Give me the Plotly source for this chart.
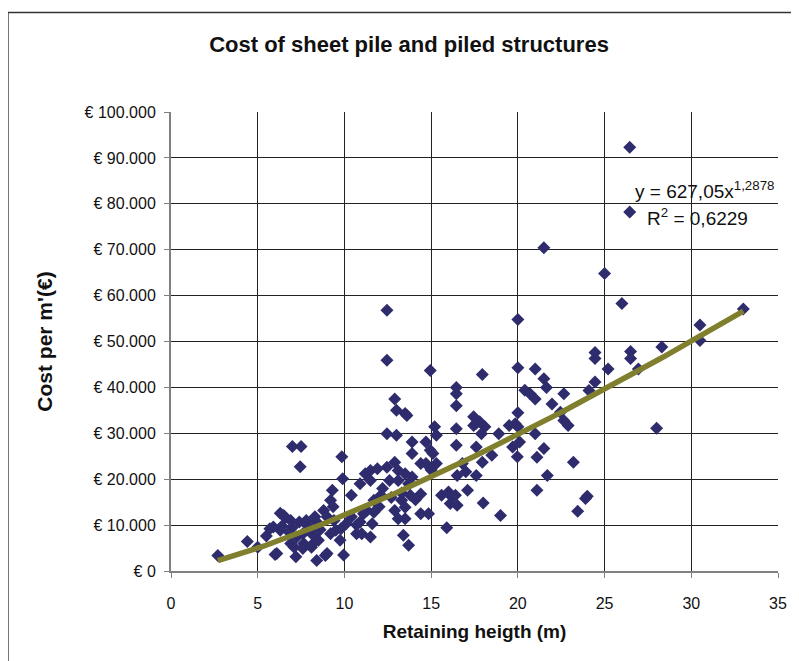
import numpy as np
import plotly.graph_objects as go

# Retaining height (m) and cost per m' (EUR)
height = [
    2.7, 4.4, 5.0, 5.5, 5.7, 5.9, 6.0, 6.1, 6.3, 6.3, 6.5, 6.6, 6.8, 6.9, 6.9, 7.0, 7.1, 7.2, 7.25, 7.4,
    7.45, 7.5, 7.6, 7.6, 7.65, 7.8, 8.0, 8.1, 8.2, 8.2, 8.3, 8.4, 8.4, 8.5, 8.8, 8.9, 9.0, 9.0, 9.2, 9.2,
    9.3, 9.35, 9.4, 9.5, 9.75, 9.8, 9.85, 9.9, 9.95, 10.1, 10.4, 10.4, 10.7, 10.7,
    10.9, 10.9, 11.0, 11.2, 11.3, 11.5, 11.5, 11.5, 11.6, 11.7, 11.7, 11.9, 12.1, 12.45, 12.45, 12.45,
    12.45, 12.6, 12.9, 12.9, 12.9, 13.0, 13.0, 13.1, 13.1, 13.1, 13.3, 13.4, 13.5, 13.5, 13.5, 13.5,
    13.6, 13.7, 13.7, 13.9, 13.9, 13.9, 14.4, 14.4, 14.4, 14.7, 14.7, 14.85, 14.95, 14.95, 15.1, 15.2,
    15.3, 15.3, 15.6, 15.9,
    16.0, 16.1, 16.2, 16.4, 16.45, 16.45, 16.45, 16.45, 16.45, 16.5, 16.5, 16.8, 17.0, 17.1, 17.45, 17.45,
    17.6, 17.6, 17.6, 17.8, 17.95, 17.9, 17.95, 18.0, 18.1, 18.5, 18.9, 19.0, 19.5, 19.7, 19.85, 19.97,
    20.0, 20.0, 20.0, 20.0, 20.1, 20.4, 20.7, 21.0, 21.0, 21.0, 21.1, 21.1, 21.5, 21.5, 21.5, 21.65,
    21.7, 21.97,
    22.45, 22.65, 22.65, 22.9, 23.2, 23.45, 23.9, 24.0, 24.1, 24.45, 24.45, 24.45, 25.0, 25.2, 26.0, 26.45,
    26.45, 26.5, 26.5, 26.95, 28.0, 28.3, 30.5, 30.5, 33.0,
    6.4, 7.0, 7.9, 8.6, 12.2, 12.7, 13.3, 13.8, 14.1, 12.0, 11.1, 15.0,
]
cost = [
    3400, 6400, 5200, 7600, 9200, 9600, 3600, 3800, 12600, 8900, 12100, 11600, 8500, 11000, 6000, 27100, 5200, 3100, 7400, 10700,
    22700, 27100, 8100, 4900, 6000, 11000, 8900, 5200, 7800, 6000, 11800, 10700, 2300, 6700, 13200, 3400, 11800, 3800, 15400, 8100,
    17600, 14000, 11000, 8900, 6700, 9200, 24900, 20100, 3500, 10300, 16500, 11800, 8100, 10000,
    19000, 10700, 8100, 21200, 13200, 21900, 19700, 7400, 10300, 15400, 12800, 22300, 16500, 56800, 45900, 29900,
    22600, 19700, 37500, 23700, 13200, 35000, 29600, 21900, 19700, 11400, 15400, 7800, 34300, 21200, 13900, 11400,
    33900, 19000, 5600, 28100, 25600, 20500, 23400, 16800, 12500, 28100, 23400, 12500, 43700, 26300, 25600, 31400,
    29600, 23400, 16500, 9400,
    17200, 14700, 16100, 16500, 40000, 38600, 36000, 31000, 27400, 14300, 20800, 23400, 21600, 17600, 33600, 31700,
    32200, 27000, 20800, 32500, 42800, 29900, 23700, 14800, 31400, 25200, 29900, 12100, 31700, 27000, 32100, 24900,
    54800, 44300, 34500, 31400, 28100, 39400, 38600, 37500, 44000, 29900, 24800, 17600, 70400, 41900, 26700, 40000,
    20800, 36400,
    34600, 38600, 32800, 31700, 23700, 13000, 15800, 16300, 39300, 41200, 47600, 46300, 64800, 44000, 58300, 92300,
    78200, 47800, 46300, 44000, 31100, 48800, 53600, 50200, 57100,
    9800, 9500, 9800, 9000, 18000, 16000, 17000, 16500, 15500, 14000, 12500, 22000,
]

# Power trendline reported on the chart: y = 627,05 x^1,2878
fit_a = 627.05
fit_b = 1.2878
fit_x_range = [2.7, 33.0]

x_ticks = [0, 5, 10, 15, 20, 25, 30, 35]
y_ticks = [0, 10000, 20000, 30000, 40000, 50000, 60000, 70000, 80000, 90000, 100000]
y_tick_labels = ["€ 0", "€ 10.000", "€ 20.000", "€ 30.000", "€ 40.000", "€ 50.000",
                 "€ 60.000", "€ 70.000", "€ 80.000", "€ 90.000", "€ 100.000"]

fx = np.linspace(fit_x_range[0], fit_x_range[1], 200)
fy = fit_a * fx ** fit_b

FONT = "Liberation Sans, Arial, sans-serif"

# plot area geometry (figure pixels)
L, T, PW, PH = 163, 103.5, 606.7, 459.2
W, H = 791, 653


def px(x):
    return (x - 8 - L) / PW


def py(y):
    return (T + PH - (y - 8)) / PH


fig = go.Figure()
fig.add_trace(go.Scatter(
    x=height, y=cost, mode="markers",
    marker=dict(symbol="diamond", size=10, color="#2f2c6e", line=dict(width=0)),
    showlegend=False, hoverinfo="x+y",
))
fig.add_trace(go.Scatter(
    x=fx, y=fy, mode="lines",
    line=dict(color="#7f7f2e", width=5.5),
    showlegend=False, hoverinfo="skip",
))

fig.update_layout(
    width=W, height=H,
    margin=dict(l=L, r=W - L - PW, t=T, b=H - T - PH),
    paper_bgcolor="white", plot_bgcolor="white",
    font=dict(family=FONT, size=15, color="#111"),
    title=dict(text="<b>Cost of sheet pile and piled structures</b>",
               x=401 / W, xanchor="center", y=1 - 36 / H, yanchor="middle",
               font=dict(family=FONT, size=22, color="#111")),
    xaxis=dict(
        range=[0, 35], tickvals=x_ticks, ticks="outside", ticklen=5, tickcolor="#808080",
        ticklabelstandoff=12,
        showgrid=True, gridcolor="#222", gridwidth=1,
        showline=True, linecolor="#808080", linewidth=2, zeroline=False,
        title=dict(text="<b>Retaining heigth (m)</b>", font=dict(family=FONT, size=19), standoff=13),
        tickfont=dict(family=FONT, size=16),
    ),
    yaxis=dict(
        range=[0, 100000], tickvals=y_ticks, ticktext=y_tick_labels, ticks="outside", ticklen=5,
        tickcolor="#808080", ticklabelstandoff=5,
        showgrid=True, gridcolor="#222", gridwidth=1,
        showline=True, linecolor="#808080", linewidth=2, zeroline=False,
        title=dict(text="<b>Cost per m'(€)</b>", font=dict(family=FONT, size=21), standoff=26),
        tickfont=dict(family=FONT, size=16),
    ),
    shapes=[
        dict(type="rect", xref="paper", yref="paper", x0=px(8), x1=px(792), y0=py(670), y1=py(12),
             line=dict(color="#333", width=1.5), fillcolor="rgba(0,0,0,0)", layer="below"),
    ],
    annotations=[
        dict(text="y = 627,05x<sup>1,2878</sup>", xref="paper", yref="paper",
             x=px(704), y=py(190), xanchor="center", yanchor="middle",
             showarrow=False, font=dict(family=FONT, size=19, color="#111")),
        dict(text="R<sup>2</sup> = 0,6229", xref="paper", yref="paper",
             x=px(697), y=py(217), xanchor="center", yanchor="middle",
             showarrow=False, font=dict(family=FONT, size=19, color="#111")),
    ],
)

fig.write_html("out.html")
